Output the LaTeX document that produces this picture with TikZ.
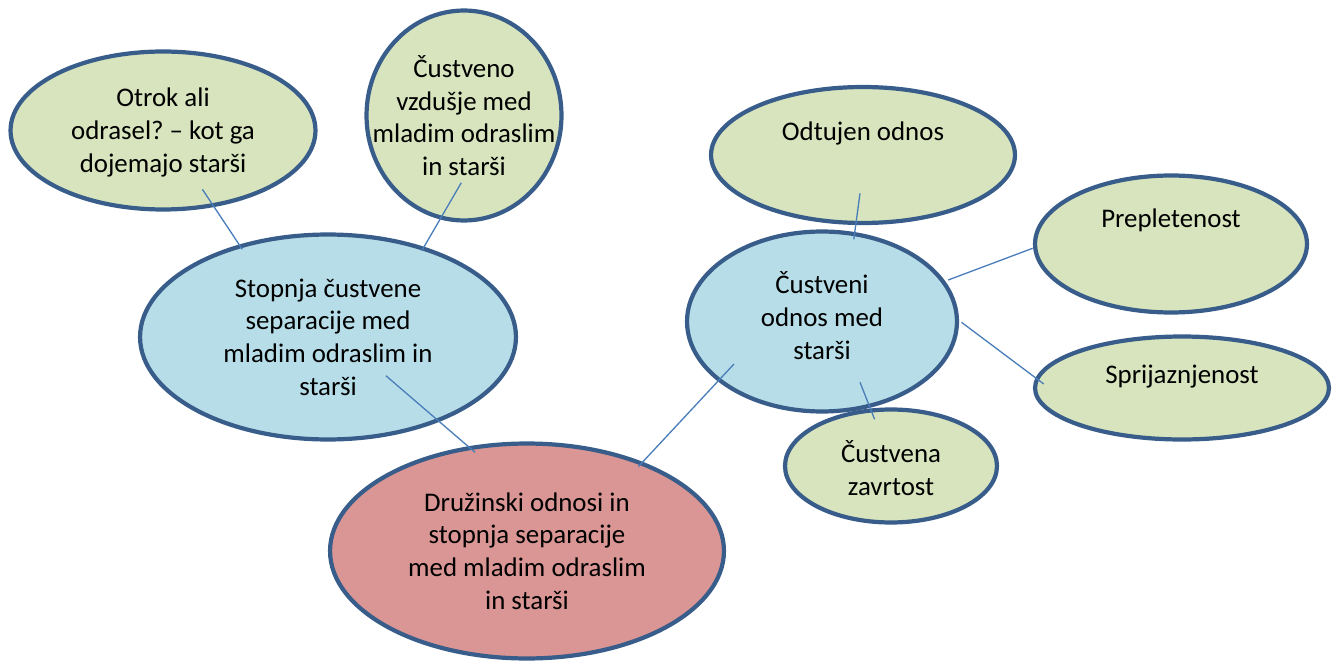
\documentclass[tikz,border=0pt]{standalone}
\usepackage{fontspec}
\setmainfont{Carlito}
\usetikzlibrary{shapes.geometric}
\frenchspacing

\definecolor{rim}{HTML}{385D8A}
\definecolor{leaf}{HTML}{D7E4BD}
\definecolor{aqua}{HTML}{B7DEE8}
\definecolor{rose}{HTML}{D99694}
\definecolor{wire}{HTML}{4A7EBB}

\begin{document}
\begin{tikzpicture}[x=0.02cm, y=-0.02cm,
    bubble/.style={ellipse, draw=rim, line width=2.4pt, inner sep=0pt},
    greenbubble/.style={bubble, fill=leaf},
    bluebubble/.style={bubble, fill=aqua},
    redbubble/.style={bubble, fill=rose},
    tag/.style={align=center, inner sep=0pt, font=\fontsize{15.3}{18.6}\selectfont},
    link/.style={draw=wire, line width=0.75pt}]
    \useasboundingbox (0,0) rectangle (1332,662);

    % Left branch
    \node[greenbubble, minimum width=6.1cm, minimum height=3.16cm,
        label={[tag, yshift=-0.04cm]center:Otrok ali\\odrasel? -- kot ga\\dojemajo starši}] (otrok) at (163,130.5) {};
    \node[greenbubble, minimum width=3.9cm, minimum height=4.2cm,
        label={[tag]center:Čustveno\\vzdušje med\\mladim odraslim\\in starši}] (vzdusje) at (464,115.5) {};
    \node[bluebubble, minimum width=7.52cm, minimum height=4.1cm,
        label={[tag]center:Stopnja čustvene\\separacije med\\mladim odraslim in\\starši}] (stopnja) at (328,337) {};

    % Central topic
    \node[redbubble, minimum width=7.88cm, minimum height=4.3cm,
        label={[tag]center:Družinski odnosi in\\stopnja separacije\\med mladim odraslim\\in starši}] (druzinski) at (527,551) {};

    % Right branch
    \node[bluebubble, minimum width=5.4cm, minimum height=3.6cm,
        label={[tag, yshift=0.12cm]center:Čustveni\\odnos med\\starši}] (custveni) at (822,321.5) {};
    \node[greenbubble, minimum width=6.08cm, minimum height=2.72cm,
        label={[tag, yshift=0.44cm]center:Odtujen odnos}] (odtujen) at (863,155) {};
    \node[greenbubble, minimum width=5.44cm, minimum height=2.74cm,
        label={[tag, yshift=0.47cm]center:Prepletenost}] (prepletenost) at (1171,244) {};
    \node[greenbubble, minimum width=5.88cm, minimum height=2.06cm,
        label={[tag, yshift=0.22cm]center:Sprijaznjenost}] (sprijaznjenost) at (1182,388) {};
    \node[greenbubble, minimum width=4.24cm, minimum height=2.26cm,
        label={[tag, yshift=-0.04cm]center:Čustvena\\zavrtost}] (zavrtost) at (891,466) {};

    % Connectors
    \draw[link] ([shift={(39.4,58.8)}]otrok.center) -- ([shift={(-85.7,-87.7)}]stopnja.center);
    \draw[link] ([shift={(-2.7,67.2)}]vzdusje.center) -- ([shift={(93.8,-86.3)}]stopnja.center);
    \draw[link] ([shift={(57.9,38.7)}]stopnja.center) -- ([shift={(-52,-98.7)}]druzinski.center);
    \draw[link] ([shift={(111.3,-84.3)}]druzinski.center) -- ([shift={(-88,42.5)}]custveni.center);
    \draw[link] ([shift={(-3,38.3)}]odtujen.center) -- ([shift={(31.8,-82.2)}]custveni.center);
    \draw[link] ([shift={(126.2,-41.5)}]custveni.center) -- ([shift={(-138.4,4.3)}]prepletenost.center);
    \draw[link] ([shift={(139.5,0.8)}]custveni.center) -- ([shift={(-138.2,-4)}]sprijaznjenost.center);
    \draw[link] ([shift={(38,60.8)}]custveni.center) -- ([shift={(-16.4,-46.7)}]zavrtost.center);
\end{tikzpicture}
\end{document}
